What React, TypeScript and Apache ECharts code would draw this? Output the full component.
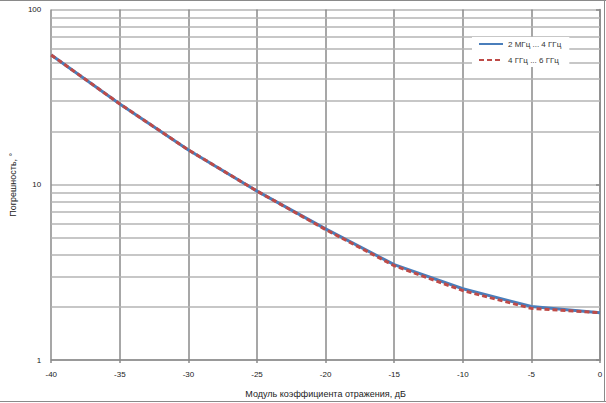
import React, { useEffect, useRef } from "react";
import * as echarts from "echarts";

const xValues = [-40, -35, -30, -25, -20, -15, -10, -5, 0];
const seriesLowBand = [55.0, 28.9, 15.8, 9.2, 5.6, 3.5, 2.55, 2.02, 1.86];
const seriesHighBand = [55.0, 28.9, 15.8, 9.2, 5.55, 3.45, 2.49, 1.97, 1.86];
const seriesNames = ["2 МГц ... 4 ГГц", "4 ГГц ... 6 ГГц"];
const minorGridValues = [2, 3, 4, 5, 6, 7, 8, 9, 20, 30, 40, 50, 60, 70, 80, 90];
const xAxisTitle = "Модуль коэффициента отражения, дБ";
const yAxisTitle = "Погрешность, °";

export default function App() {
  const ref = useRef<HTMLDivElement>(null);
  useEffect(() => {
    const chart = echarts.init(ref.current!, null, { renderer: "svg" });
    const font = "Liberation Sans, Arial, sans-serif";
    chart.setOption({
      animation: false,
      backgroundColor: "#ffffff",
      grid: { left: 47, right: 6, top: 9.5, bottom: 43, containLabel: false },
      legend: {
        data: seriesNames,
        orient: "vertical",
        left: 472,
        top: 37,
        z: 10,
        backgroundColor: "#ffffff",
        padding: [3, 8, 3, 6],
        itemWidth: 24,
        itemHeight: 10,
        itemGap: 8,
        itemStyle: { opacity: 0 },
        textStyle: { fontSize: 8, color: "#333", fontFamily: font },
      },
      xAxis: {
        type: "value",
        min: -40,
        max: 0,
        interval: 5,
        name: xAxisTitle,
        nameLocation: "middle",
        nameGap: 29,
        nameTextStyle: { fontSize: 9, color: "#222", fontFamily: font },
        axisLine: { show: true, lineStyle: { color: "#8a8a8a", width: 1.5 } },
        axisTick: { show: true, length: 3, lineStyle: { color: "#8a8a8a", width: 1.5 } },
        axisLabel: { fontSize: 8, color: "#222", margin: 10, fontFamily: font },
        splitLine: { show: true, lineStyle: { color: "#8a8a8a", width: 1.5 } },
      },
      yAxis: {
        type: "log",
        logBase: 10,
        min: 1,
        max: 100,
        name: yAxisTitle,
        nameLocation: "middle",
        nameGap: 28,
        nameRotate: 90,
        nameTextStyle: { fontSize: 9, color: "#222", fontFamily: font },
        axisLine: { show: true, lineStyle: { color: "#8a8a8a", width: 1.5 } },
        axisTick: { show: true, length: 4, lineStyle: { color: "#8a8a8a", width: 1.5 } },
        axisLabel: { fontSize: 8, color: "#222", margin: 10, fontFamily: font },
        splitLine: { show: true, lineStyle: { color: "#b4b4b4", width: 1.5 } },
      },
      series: [
        {
          name: "grid",
          type: "line",
          data: [],
          z: 1,
          silent: true,
          markLine: {
            z: 1,
            silent: true,
            symbol: ["none", "none"],
            label: { show: false },
            lineStyle: { color: "#b4b4b4", type: "solid", width: 1.5 },
            data: minorGridValues.map((v) => ({ yAxis: v })),
          },
        },
        {
          name: seriesNames[0],
          type: "line",
          z: 3,
          showSymbol: false,
          symbol: "none",
          data: xValues.map((x, i) => [x, seriesLowBand[i]]),
          lineStyle: { color: "#4a7ebb", width: 3 },
          itemStyle: { color: "#4a7ebb" },
        },
        {
          name: seriesNames[1],
          type: "line",
          z: 4,
          showSymbol: false,
          symbol: "none",
          data: xValues.map((x, i) => [x, seriesHighBand[i]]),
          lineStyle: { color: "#be4b48", width: 3, type: [5, 3] },
          itemStyle: { color: "#be4b48" },
        },
      ],
      graphic: [
        { type: "line", shape: { x1: 0, y1: 0.5, x2: 606, y2: 0.5 }, style: { stroke: "#8a8a8a", lineWidth: 1 } },
        { type: "line", shape: { x1: 0, y1: 401.5, x2: 606, y2: 401.5 }, style: { stroke: "#8a8a8a", lineWidth: 1 } },
        { type: "line", shape: { x1: 604.5, y1: 0, x2: 604.5, y2: 402 }, style: { stroke: "#8a8a8a", lineWidth: 1 } },
      ],
    });
    return () => chart.dispose();
  }, []);
  return (
    <div
      ref={ref}
      style={{ position: "fixed", left: 0, top: 0, width: 606, height: 403 }}
    />
  );
}
